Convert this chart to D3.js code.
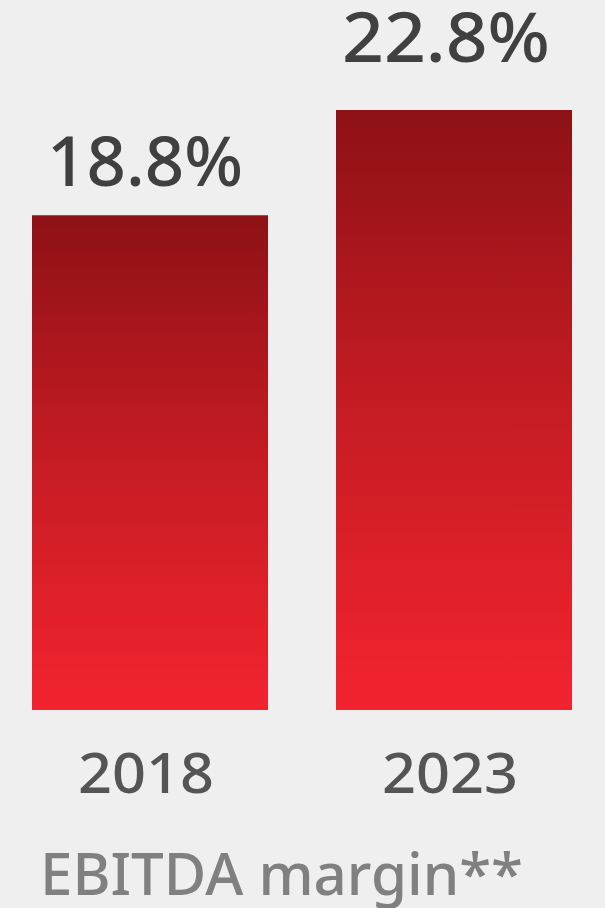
<!DOCTYPE html>
<html>
<head>
<meta charset="utf-8">
<script src="https://cdn.jsdelivr.net/npm/d3@7"></script>
<style>
  html, body { margin: 0; padding: 0; background: #efefef; }
  svg { display: block; }
</style>
</head>
<body>
<div id="chart"></div>
<script>
// data
const years = ["2018", "2023"];
const margins = [18.8, 22.8];
const valueLabels = ["18.8%", "22.8%"];
const caption = "EBITDA margin**";

const width = 605;
const height = 908;

const svg = d3.select("#chart")
    .append("svg")
    .attr("width", width)
    .attr("height", height);

svg.append("rect")
    .attr("width", width)
    .attr("height", height)
    .attr("fill", "#efefef");

// gradient for the bars, dark on top
const grad = svg.append("defs")
    .append("linearGradient")
    .attr("id", "barGrad")
    .attr("x1", 0).attr("y1", 0)
    .attr("x2", 0).attr("y2", 1);
grad.append("stop").attr("offset", "0%").attr("stop-color", "#8d1116");
grad.append("stop").attr("offset", "45%").attr("stop-color", "#c11b22");
grad.append("stop").attr("offset", "100%").attr("stop-color", "#f3232e");

const x = d3.scaleBand()
    .domain(years)
    .range([32, 572])
    .paddingInner(0.2237)
    .paddingOuter(0);

const y = d3.scaleLinear()
    .domain([0, 22.8])
    .range([710, 110]);

const fontFam = "'Noto Sans', 'DejaVu Sans', sans-serif";

svg.selectAll("rect.bar")
    .data(margins)
    .enter()
    .append("rect")
    .attr("class", "bar")
    .attr("x", (d, i) => x(years[i]))
    .attr("y", d => y(d))
    .attr("width", x.bandwidth())
    .attr("height", d => y(0) - y(d))
    .attr("fill", "url(#barGrad)");

// value labels above bars
const labelGap = [29, 48];
const labelShift = [-5, -8];
svg.selectAll("text.value")
    .data(margins)
    .enter()
    .append("text")
    .attr("class", "value")
    .attr("x", (d, i) => x(years[i]) + x.bandwidth() / 2 + labelShift[i])
    .attr("y", (d, i) => y(d) - labelGap[i])
    .attr("text-anchor", "middle")
    .attr("font-family", fontFam)
    .attr("font-size", 69)
    .attr("font-weight", 500)
    .attr("fill", "#404040")
    .attr("textLength", (d, i) => i === 0 ? 196 : 208)
    .attr("lengthAdjust", "spacingAndGlyphs")
    .text((d, i) => valueLabels[i]);

// year labels
svg.selectAll("text.year")
    .data(years)
    .enter()
    .append("text")
    .attr("class", "year")
    .attr("x", d => x(d) + x.bandwidth() / 2 - 4)
    .attr("y", 793)
    .attr("text-anchor", "middle")
    .attr("font-family", fontFam)
    .attr("font-size", 56)
    .attr("font-weight", 500)
    .attr("fill", "#555555")
    .attr("textLength", 136)
    .attr("lengthAdjust", "spacingAndGlyphs")
    .text(d => d);

svg.append("text")
    .attr("x", 40)
    .attr("y", 895)
    .attr("font-family", fontFam)
    .attr("font-size", 58)
    .attr("font-weight", 500)
    .attr("fill", "#808080")
    .attr("textLength", 483)
    .attr("lengthAdjust", "spacingAndGlyphs")
    .text(caption);
</script>
</body>
</html>
